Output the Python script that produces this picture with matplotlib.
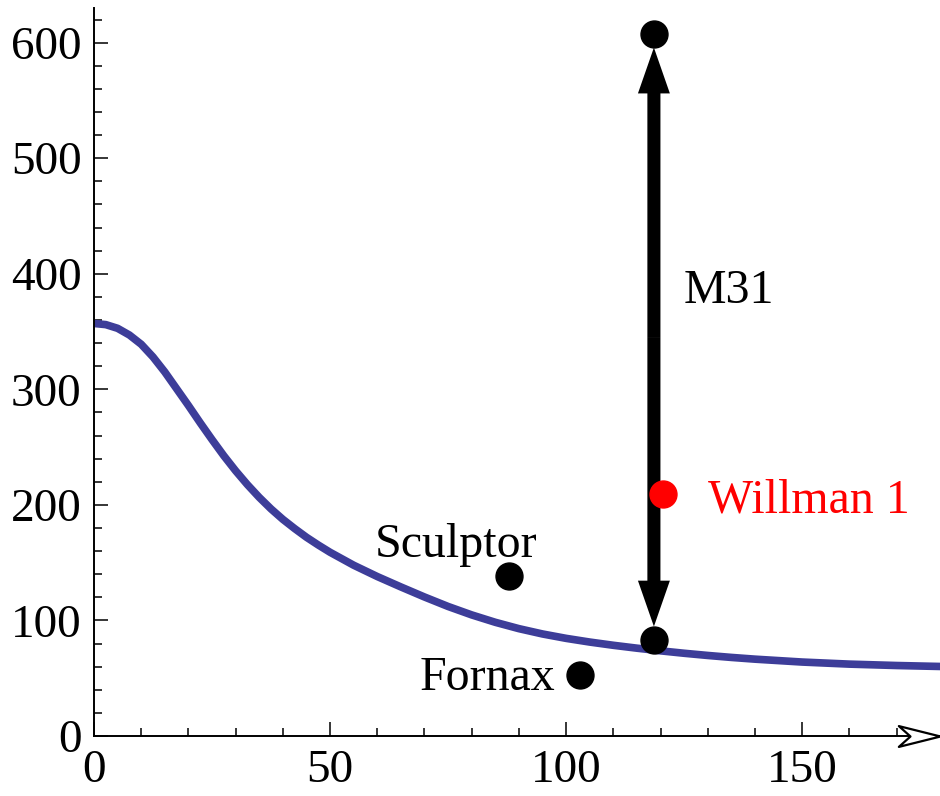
import matplotlib
matplotlib.use('Agg')
import matplotlib.pyplot as plt
from matplotlib.patches import FancyArrowPatch, ArrowStyle
from matplotlib.path import Path
from matplotlib.ticker import MultipleLocator, FixedLocator

# ---- data ----
curve_x = [0, 2.5, 5, 7.5, 10, 12.5, 15, 17.5, 20, 22.5, 25, 27.5, 30, 32.5,
           35, 37.5, 40, 42.5, 45, 47.5, 50, 55, 60, 65, 70, 75, 80, 85, 90,
           95, 100, 105, 110, 115, 120, 125, 130, 135, 140, 150, 160, 170, 180]
curve_y = [357, 356, 352.8, 347, 339, 328, 315, 300.5, 286, 271, 256.5, 242.5,
           229.5, 217.5, 206.5, 196.5, 187.5, 179.5, 172, 165.3, 159, 147.8,
           138, 129, 120.3, 112.1, 104.8, 98.4, 92.9, 88.3, 84.5, 81.3, 78.5,
           76, 73.7, 71.6, 69.7, 68, 66.5, 64, 62.2, 61, 60.1]

galaxy_names = ['Sculptor', 'Fornax']
galaxy_x = [87.9, 103.0]
galaxy_y = [138.4, 52.8]

m31_name = 'M31'
m31_x = 118.6
m31_range = [83.1, 607.4]

willman_name = 'Willman 1'
willman_x = 120.6
willman_y = 209.4

x_ticks = [0, 50, 100, 150]
y_ticks = [0, 100, 200, 300, 400, 500, 600]

# ---- style ----
serif = ['Liberation Serif', 'DejaVu Serif']
plt.rcParams['font.family'] = serif
FS = 34.5
curve_color = '#3d3d99'

fig = plt.figure(figsize=(9.4, 7.96), dpi=100)
ax = fig.add_axes([94 / 940, 60 / 796, 846 / 940, 728 / 796])
ax.set_xlim(0, 179.2)
ax.set_ylim(0, 630)

for s in ['top', 'right']:
    ax.spines[s].set_visible(False)
for s in ['left', 'bottom']:
    ax.spines[s].set_linewidth(1.4)
    ax.spines[s].set_color('black')

ax.xaxis.set_major_locator(FixedLocator(x_ticks))
ax.yaxis.set_major_locator(FixedLocator(y_ticks))
ax.xaxis.set_minor_locator(MultipleLocator(10))
ax.yaxis.set_minor_locator(MultipleLocator(20))
ax.tick_params(which='major', direction='in', length=10, width=1.1,
               labelsize=FS - 0.5, colors='black')
ax.tick_params(which='minor', direction='in', length=5.5, width=1.1)
ax.tick_params(axis='x', which='major', pad=10)
ax.tick_params(axis='y', which='major', pad=9)

# curve
ax.plot(curve_x, curve_y, color=curve_color, lw=5.5, solid_capstyle='butt',
        solid_joinstyle='round', zorder=2)

# M31 range arrow
mid = sum(m31_range) / 2
for end in m31_range:
    arr = FancyArrowPatch((m31_x, mid), (m31_x, end),
                          arrowstyle=ArrowStyle.Simple(head_length=33,
                                                       head_width=23,
                                                       tail_width=9.4),
                          mutation_scale=1, shrinkA=0, shrinkB=9.7,
                          color='black', lw=0, zorder=3)
    ax.add_patch(arr)
ax.plot([m31_x] * len(m31_range), m31_range, 'o', color='black', ms=19.4,
        zorder=4)

# galaxies
ax.plot(galaxy_x, galaxy_y, 'o', color='black', ms=19.4, zorder=4)
ax.plot([willman_x], [willman_y], 'o', color='red', ms=19.4, zorder=5)

# labels
ax.text(124.8, 374.6, m31_name, ha='left', va='baseline', fontsize=FS)
ax.text(130.1, 193, willman_name, ha='left', va='baseline', fontsize=FS,
        color='red')
ax.text(76.7, 154.9, galaxy_names[0], ha='center', va='baseline', fontsize=FS)
ax.text(97.7, 39.8, galaxy_names[1], ha='right', va='baseline', fontsize=FS)

# open arrowhead at end of x axis
head = Path([(0, 0), (-1, 0.25), (-0.72, 0), (-1, -0.25), (0, 0)],
            [Path.MOVETO, Path.LINETO, Path.LINETO, Path.LINETO,
             Path.CLOSEPOLY])
ax.plot([1], [0], marker=head, ms=60, mfc='white', mec='black', mew=1.6,
        transform=ax.transAxes, clip_on=False, zorder=6)

fig.savefig('out.png', dpi=100)
